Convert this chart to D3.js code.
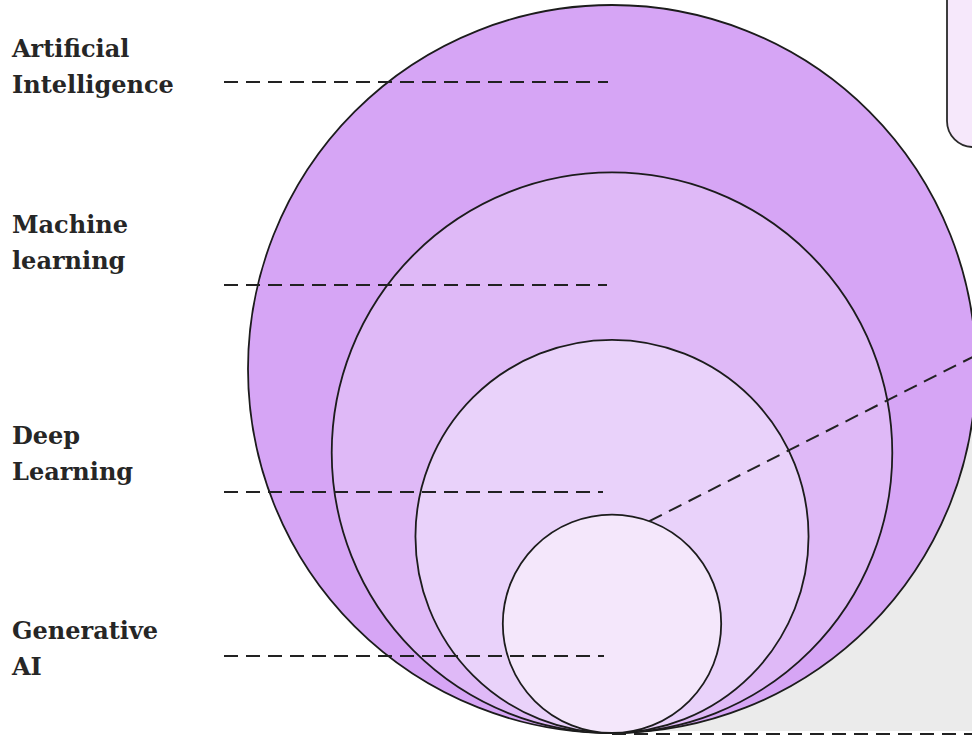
<!DOCTYPE html>
<html lang="en">
<head>
<meta charset="UTF-8">
<title>AI nested circles</title>
<style>
    body { margin: 0; background: #fff; }
    svg { display: block; }
    .label { font-family: "DejaVu Serif", serif; font-weight: bold; font-size: 24px; fill: #262626; }
    .leader { stroke: #222; stroke-width: 2px; stroke-dasharray: 14 8; fill: none; }
    .ring { stroke: #1c1c1c; stroke-width: 1.8px; }
</style>
<script src="https://d3js.org/d3.v7.min.js"></script>
</head>
<body>
<div id="chart"></div>
<script>
    // categories, outermost first
    const CATEGORIES = ["Artificial Intelligence", "Machine learning", "Deep Learning", "Generative AI"];
    // relative size of each field (outer = 100)
    const SIZES = [100, 77, 54, 30];
    const COLORS = ["#d6a5f5", "#dfb9f7", "#e9d2fa", "#f4e7fb"];

    const width = 972, height = 736;
    const base = { x: 612, y: 733 };           // shared tangent point at the bottom
    const leaderY = [82, 285, 492, 656];         // leader line heights
    const leaderEnd = [608, 607, 603, 604];
    const labelY = [57, 233, 444, 639];          // first baseline of each label

    const r = d3.scaleLinear().domain([0, 100]).range([0, 364]);

    const svg = d3.select("#chart").append("svg")
        .attr("width", width)
        .attr("height", height);

    // grey panel behind the circles, lower right
    svg.append("rect")
        .attr("x", 600).attr("y", 360)
        .attr("width", 400).attr("height", 371)
        .attr("fill", "#ebebeb");

    // top right card
    svg.append("rect")
        .attr("x", 947).attr("y", -40)
        .attr("width", 80).attr("height", 187)
        .attr("rx", 26)
        .attr("fill", "#f6e8fb")
        .attr("stroke", "#2a2a2a").attr("stroke-width", 1.8);

    // nested circles, all touching at the bottom
    svg.selectAll("circle.ring")
        .data(SIZES)
        .join("circle")
        .attr("class", "ring")
        .attr("cx", base.x)
        .attr("cy", d => base.y - r(d))
        .attr("r", d => r(d))
        .attr("fill", (d, i) => COLORS[i]);

    // labels on the left
    const lab = svg.selectAll("text.label")
        .data(CATEGORIES)
        .join("text")
        .attr("class", "label")
        .attr("x", 12)
        .attr("y", (d, i) => labelY[i]);
    lab.each(function (d) {
        const words = d.split(" ");
        d3.select(this).selectAll("tspan")
            .data(words)
            .join("tspan")
            .attr("x", 12)
            .attr("dy", (w, j) => j === 0 ? 0 : 36)
            .text(w => w);
    });

    // horizontal dashed leaders
    svg.selectAll("line.leader-h")
        .data(CATEGORIES)
        .join("line")
        .attr("class", "leader leader-h")
        .attr("x1", 224)
        .attr("x2", (d, i) => leaderEnd[i])
        .attr("y1", (d, i) => leaderY[i])
        .attr("y2", (d, i) => leaderY[i]);

    // diagonal leader out of the innermost circle
    const inner = SIZES[SIZES.length - 1];
    const ang = -70 * Math.PI / 180;
    const sx = base.x + r(inner) * Math.cos(ang);
    const sy = base.y - r(inner) + r(inner) * Math.sin(ang);
    const slope = -0.508;
    svg.append("line")
        .attr("class", "leader")
        .attr("stroke-dasharray", "12 7")
        .attr("x1", sx).attr("y1", sy)
        .attr("x2", 1000).attr("y2", sy + slope * (1000 - sx));

    // bottom dashed rule
    svg.append("line")
        .attr("class", "leader")
        .attr("stroke-width", 3)
        .attr("x1", base.x).attr("x2", 980)
        .attr("y1", 734).attr("y2", 734);
</script>
</body>
</html>
